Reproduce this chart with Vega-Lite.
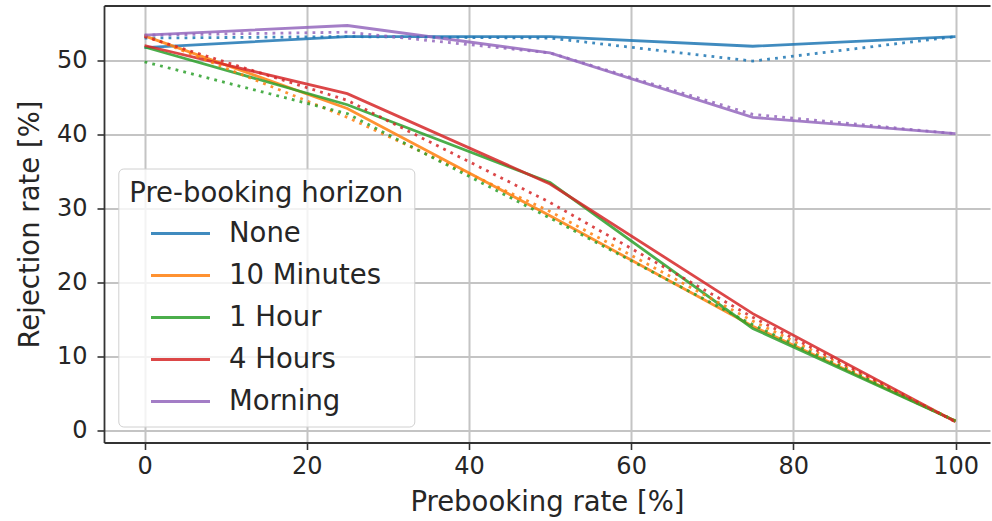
{
  "$schema": "https://vega.github.io/schema/vega-lite/v6.json",
  "width": 886,
  "height": 437,
  "autosize": {"type": "none"},
  "padding": {"left": 104, "top": 5.5, "right": 2, "bottom": 78.5},
  "background": "white",
  "config": {
    "font": "DejaVu Sans",
    "view": {"stroke": null},
    "axis": {
      "labelFont": "DejaVu Sans",
      "titleFont": "DejaVu Sans",
      "labelFontSize": 24,
      "titleFontSize": 27.5,
      "labelColor": "#262626",
      "titleColor": "#262626",
      "titleFontWeight": "normal",
      "tickColor": "#333333",
      "tickSize": 7,
      "tickWidth": 1.6,
      "domainColor": "#333333",
      "domainWidth": 1.8,
      "gridColor": "#c4c4c4",
      "gridWidth": 2,
      "gridOpacity": 1
    },
    "legend": {
      "labelFont": "DejaVu Sans",
      "titleFont": "DejaVu Sans"
    }
  },
  "data": {
    "values": [
      {"horizon": "None", "kind": "solid", "rate": 0, "rejection": 51.7},
      {"horizon": "None", "kind": "solid", "rate": 25, "rejection": 53.2},
      {"horizon": "None", "kind": "solid", "rate": 50, "rejection": 53.2},
      {"horizon": "None", "kind": "solid", "rate": 75, "rejection": 51.9},
      {"horizon": "None", "kind": "solid", "rate": 100, "rejection": 53.2},
      {"horizon": "None", "kind": "dotted", "rate": 0, "rejection": 53.0},
      {"horizon": "None", "kind": "dotted", "rate": 25, "rejection": 53.2},
      {"horizon": "None", "kind": "dotted", "rate": 50, "rejection": 53.0},
      {"horizon": "None", "kind": "dotted", "rate": 75, "rejection": 49.9},
      {"horizon": "None", "kind": "dotted", "rate": 100, "rejection": 53.2},
      {"horizon": "10 Minutes", "kind": "solid", "rate": 0, "rejection": 53.3},
      {"horizon": "10 Minutes", "kind": "solid", "rate": 25, "rejection": 43.5},
      {"horizon": "10 Minutes", "kind": "solid", "rate": 50, "rejection": 29.0},
      {"horizon": "10 Minutes", "kind": "solid", "rate": 75, "rejection": 14.1},
      {"horizon": "10 Minutes", "kind": "solid", "rate": 100, "rejection": 1.3},
      {"horizon": "10 Minutes", "kind": "dotted", "rate": 0, "rejection": 53.4},
      {"horizon": "10 Minutes", "kind": "dotted", "rate": 25, "rejection": 42.3},
      {"horizon": "10 Minutes", "kind": "dotted", "rate": 50, "rejection": 29.6},
      {"horizon": "10 Minutes", "kind": "dotted", "rate": 75, "rejection": 14.8},
      {"horizon": "10 Minutes", "kind": "dotted", "rate": 100, "rejection": 1.3},
      {"horizon": "1 Hour", "kind": "solid", "rate": 0, "rejection": 51.8},
      {"horizon": "1 Hour", "kind": "solid", "rate": 25, "rejection": 44.0},
      {"horizon": "1 Hour", "kind": "solid", "rate": 50, "rejection": 33.5},
      {"horizon": "1 Hour", "kind": "solid", "rate": 75, "rejection": 13.8},
      {"horizon": "1 Hour", "kind": "solid", "rate": 100, "rejection": 1.3},
      {"horizon": "1 Hour", "kind": "dotted", "rate": 0, "rejection": 49.8},
      {"horizon": "1 Hour", "kind": "dotted", "rate": 25, "rejection": 42.8},
      {"horizon": "1 Hour", "kind": "dotted", "rate": 50, "rejection": 28.7},
      {"horizon": "1 Hour", "kind": "dotted", "rate": 75, "rejection": 14.3},
      {"horizon": "1 Hour", "kind": "dotted", "rate": 100, "rejection": 1.3},
      {"horizon": "4 Hours", "kind": "solid", "rate": 0, "rejection": 52.0},
      {"horizon": "4 Hours", "kind": "solid", "rate": 25, "rejection": 45.5},
      {"horizon": "4 Hours", "kind": "solid", "rate": 50, "rejection": 33.3},
      {"horizon": "4 Hours", "kind": "solid", "rate": 75, "rejection": 15.8},
      {"horizon": "4 Hours", "kind": "solid", "rate": 100, "rejection": 1.2},
      {"horizon": "4 Hours", "kind": "dotted", "rate": 0, "rejection": 53.2},
      {"horizon": "4 Hours", "kind": "dotted", "rate": 25, "rejection": 44.6},
      {"horizon": "4 Hours", "kind": "dotted", "rate": 50, "rejection": 30.8},
      {"horizon": "4 Hours", "kind": "dotted", "rate": 75, "rejection": 15.3},
      {"horizon": "4 Hours", "kind": "dotted", "rate": 100, "rejection": 1.2},
      {"horizon": "Morning", "kind": "solid", "rate": 0, "rejection": 53.4},
      {"horizon": "Morning", "kind": "solid", "rate": 25, "rejection": 54.7},
      {"horizon": "Morning", "kind": "solid", "rate": 50, "rejection": 51.0},
      {"horizon": "Morning", "kind": "solid", "rate": 75, "rejection": 42.3},
      {"horizon": "Morning", "kind": "solid", "rate": 100, "rejection": 40.1},
      {"horizon": "Morning", "kind": "dotted", "rate": 0, "rejection": 53.4},
      {"horizon": "Morning", "kind": "dotted", "rate": 25, "rejection": 53.8},
      {"horizon": "Morning", "kind": "dotted", "rate": 50, "rejection": 51.0},
      {"horizon": "Morning", "kind": "dotted", "rate": 75, "rejection": 42.7},
      {"horizon": "Morning", "kind": "dotted", "rate": 100, "rejection": 40.1}
    ]
  },
  "resolve": {"axis": {"x": "independent"}},
  "layer": [
    {
      "transform": [{"filter": "datum.kind === 'solid'"}],
      "mark": {"type": "line", "strokeWidth": 2.8, "opacity": 0.85, "clip": true},
      "encoding": {
        "x": {
          "field": "rate", "type": "quantitative",
          "scale": {"domain": [-5, 104.25], "nice": false, "zero": false},
          "axis": {
            "values": [0, 20, 40, 60, 80, 100],
            "title": "Prebooking rate [%]",
            "labelPadding": 5,
            "titlePadding": 10,
            "domain": true
          }
        },
        "y": {
          "field": "rejection", "type": "quantitative",
          "scale": {"domain": [-1.6, 57.4], "nice": false, "zero": false},
          "axis": {
            "values": [0, 10, 20, 30, 40, 50],
            "title": "Rejection rate [%]",
            "labelPadding": 10,
            "titlePadding": 12,
            "domain": true
          }
        },
        "color": {
          "field": "horizon", "type": "nominal",
          "scale": {
            "domain": ["None", "10 Minutes", "1 Hour", "4 Hours", "Morning"],
            "range": ["#1f77b4", "#ff7f0e", "#2ca02c", "#d62728", "#9467bd"]
          },
          "legend": {
            "title": "Pre-booking horizon",
            "orient": "none",
            "legendX": 14.3,
            "legendY": 163,
            "titleFontSize": 27.5,
            "titleFontWeight": "normal",
            "titleColor": "#262626",
            "titleLimit": 500,
            "titlePadding": 10,
            "labelFontSize": 27.5,
            "labelColor": "#262626",
            "labelLimit": 400,
            "labelOffset": 32,
            "symbolType": "M-2,0H2",
            "symbolSize": 870,
            "symbolStrokeWidth": 3,
            "symbolOpacity": 0.85,
            "symbolOffset": 34.7,
            "rowPadding": 12,
            "padding": 11,
            "cornerRadius": 5,
            "strokeColor": "#d0d0d0",
            "fillColor": "rgba(255,255,255,0.8)"
          }
        },
        "detail": {"field": "kind"}
      }
    },
    {
      "transform": [{"filter": "datum.kind === 'dotted'"}],
      "mark": {"type": "line", "strokeWidth": 2.8, "opacity": 0.85, "strokeDash": [2.8, 5.2], "clip": true},
      "encoding": {
        "x": {
          "field": "rate", "type": "quantitative",
          "scale": {"domain": [-5, 104.25], "nice": false, "zero": false},
          "axis": {
            "orient": "top",
            "labels": false,
            "ticks": false,
            "grid": false,
            "title": null,
            "domain": true
          }
        },
        "y": {"field": "rejection", "type": "quantitative"},
        "color": {"field": "horizon", "type": "nominal", "legend": null},
        "detail": {"field": "kind"}
      }
    }
  ]
}
